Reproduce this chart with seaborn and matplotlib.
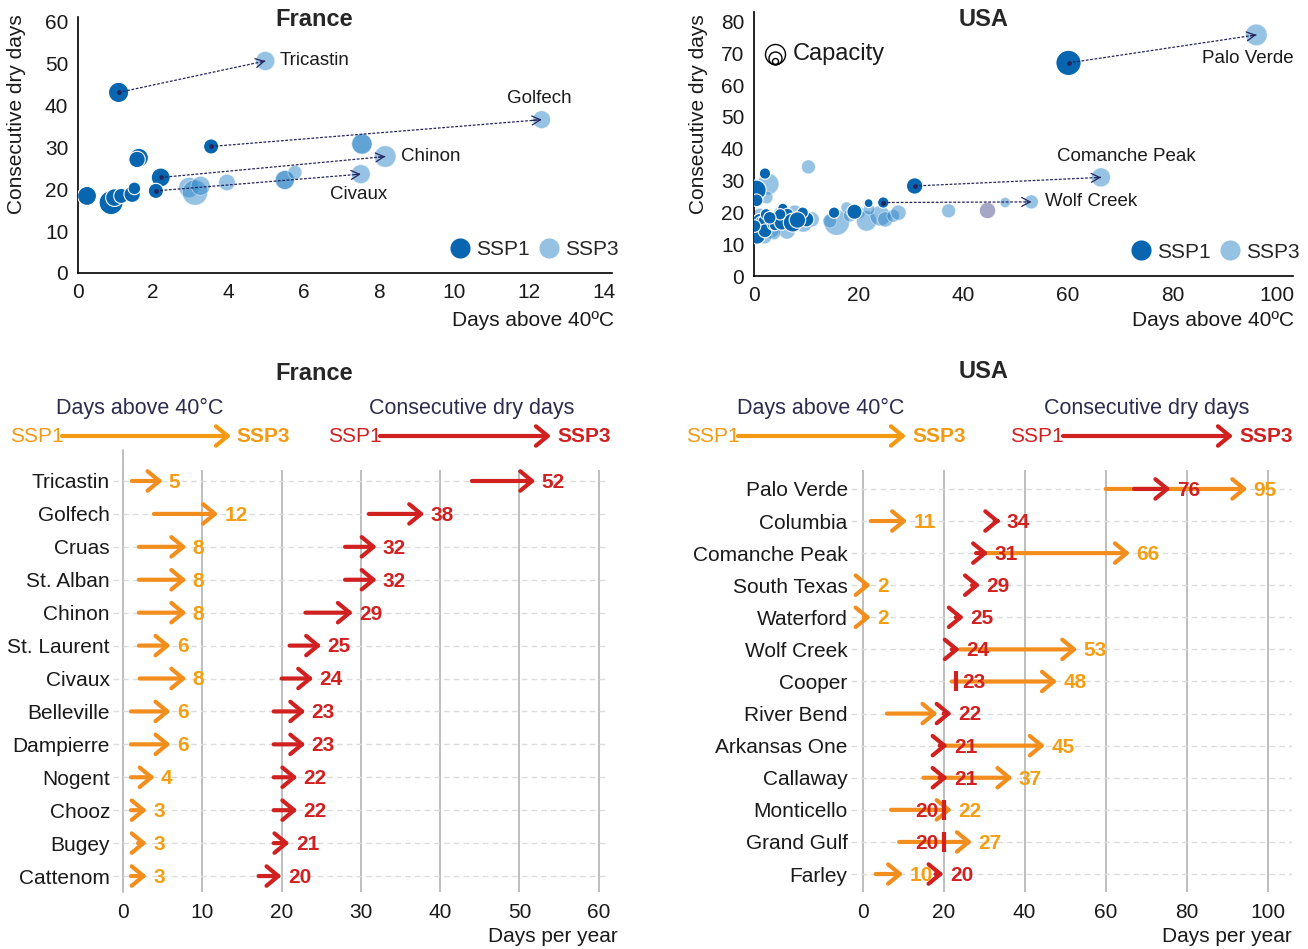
import matplotlib
matplotlib.use("Agg")
import matplotlib.pyplot as plt
from matplotlib.lines import Line2D
from matplotlib.patches import FancyArrowPatch
import pandas as pd
import seaborn as sns

# ---------------- data : top scatter, France ----------------
fr_s1_names = ["Tricastin", "Golfech", "Cruas", "St. Alban", "Chinon", "Civaux",
               "", "", "", "", "", ""]
fr_s1_heat = [1.08, 3.54, 1.62, 1.57, 2.20, 2.07, 0.24, 0.88, 0.97, 1.15, 1.44, 1.50]
fr_s1_cdd = [43.1, 30.2, 27.5, 27.1, 22.8, 19.6, 18.4, 16.8, 18.0, 18.4, 18.8, 20.2]
fr_s1_cap = [3.54, 1.99, 3.11, 2.34, 3.11, 1.99, 3.11, 5.00, 2.71, 1.99, 2.34, 1.38]

fr_s3_names = ["Tricastin", "Golfech", "Cruas", "St. Alban", "Chinon", "Civaux",
               "", "", "", "", "", "", ""]
fr_s3_heat = [4.98, 12.33, 7.55, 7.55, 8.17, 7.52, 2.95, 3.11, 3.26, 3.96, 5.50, 5.50, 5.77]
fr_s3_cdd = [50.6, 36.6, 30.8, 30.8, 27.8, 23.6, 20.4, 19.2, 20.8, 21.6, 22.2, 22.2, 24.0]
fr_s3_cap = [3.11, 2.71, 3.54, 3.54, 4.00, 3.11, 3.54, 5.54, 3.11, 2.34, 3.11, 3.11, 1.67]

fr_linked = ["Tricastin", "Golfech", "Chinon", "Civaux"]

# ---------------- data : top scatter, USA ----------------
us_s1_names = ["Palo Verde", "Comanche Peak", "Wolf Creek"] + [""] * 25
us_s1_heat = [60.1, 30.7, 24.7, 21.9, 19.2, 15.3, 2.1, 0.4, 0.5, 0.6, 1.15, 1.4, 2.1, 2.1,
              3.7, 4.0, 5.3, 5.5, 6.4, 7.4, 9.1, 10.0, 9.3, 0.1, 2.3, 5.0, 8.3, 3.0]
us_s1_cdd = [67.0, 28.3, 23.1, 22.9, 20.2, 19.9, 32.2, 27.0, 23.8, 12.6, 17.3, 16.8, 16.8, 14.2,
             16.3, 16.0, 16.8, 21.3, 19.3, 16.8, 18.9, 17.8, 19.9, 15.7, 19.4, 19.4, 17.6, 18.3]
us_s1_cap = [5.54, 2.34, 1.12, 0.68, 1.99, 1.12, 1.12, 3.54, 1.38, 2.34, 1.99, 1.38, 1.99, 1.67,
             1.38, 1.12, 1.99, 0.89, 1.38, 3.11, 1.67, 1.99, 1.12, 1.38, 1.12, 1.12, 2.34, 1.38]

us_s3_names = ["Palo Verde", "Comanche Peak", "Wolf Creek"] + [""] * 26
us_s3_heat = [96.0, 66.3, 53.0, 48.0, 37.2, 10.4, 2.7, 2.4, 15.8, 17.7, 14.5, 20.0, 21.5, 24.1,
              25.1, 26.6, 27.6, 22.0, 18.3, 0.0, 3.2, 6.3, 9.4, 11.0, 1.1, 5.1, 7.8, 3.8, 2.0]
us_s3_cdd = [75.8, 31.0, 23.3, 23.1, 20.5, 34.3, 28.9, 24.7, 16.8, 21.5, 17.3, 19.9, 17.3, 18.9,
             17.8, 18.9, 19.9, 21.0, 19.0, 15.2, 14.7, 14.2, 16.8, 17.8, 18.9, 19.4, 19.9, 13.6, 12.5]
us_s3_cap = [4.00, 3.11, 1.67, 0.89, 1.67, 1.67, 4.00, 1.38, 5.54, 1.12, 1.67, 1.38, 3.54, 3.54,
             1.99, 1.38, 1.99, 1.12, 1.38, 2.71, 2.71, 2.34, 3.11, 1.99, 1.99, 1.99, 1.99, 1.67, 1.99]

us_other_heat = [44.6]
us_other_cdd = [20.7]
us_other_cap = [2.34]

us_linked = ["Palo Verde", "Comanche Peak", "Wolf Creek"]

# ---------------- data : bottom arrow charts ----------------
fr_plants = ["Tricastin", "Golfech", "Cruas", "St. Alban", "Chinon", "St. Laurent", "Civaux",
             "Belleville", "Dampierre", "Nogent", "Chooz", "Bugey", "Cattenom"]
fr_heat_ssp1 = [1.1, 3.9, 2.0, 2.0, 2.0, 2.0, 2.1, 1.0, 1.0, 1.0, 1.0, 1.9, 1.0]
fr_heat_ssp3 = [5, 12, 8, 8, 8, 6, 8, 6, 6, 4, 3, 3, 3]
fr_heat_show = [True] * 13
fr_cdd_ssp1 = [44, 31, 28, 28, 23, 21, 20, 19, 19, 19, 19, 19, 17.1]
fr_cdd_ssp3 = [52, 38, 32, 32, 29, 25, 24, 23, 23, 22, 22, 21, 20]
fr_cdd_side = ["r"] * 13

us_plants = ["Palo Verde", "Columbia", "Comanche Peak", "South Texas", "Waterford", "Wolf Creek",
             "Cooper", "River Bend", "Arkansas One", "Callaway", "Monticello", "Grand Gulf", "Farley"]
us_heat_ssp1 = [60, 2, 30, 0.3, 0.3, 24, 22, 6, 19.5, 15, 7, 9, 3.2]
us_heat_ssp3 = [95, 11, 66, 2, 2, 53, 48, 18.5, 45, 37, 22, 27, 10]
us_heat_show = [True, True, True, True, True, True, True, False, True, True, True, True, True]
us_cdd_ssp1 = [67, 32.6, 28, 27, 23, 22, 23, 20, 19, 19, 20, 20, 18]
us_cdd_ssp3 = [76, 34, 31, 29, 25, 24, 23, 22, 21, 21, 20, 20, 20]
us_cdd_side = ["r", "r", "r", "r", "r", "r", "r", "r", "r", "r", "l", "l", "r"]

fr_xticks = [0, 10, 20, 30, 40, 50, 60]
us_xticks = [0, 20, 40, 60, 80, 100]

# ---------------- style ----------------
sns.set_theme(style="white")
plt.rcParams["font.family"] = ["Liberation Sans", "DejaVu Sans"]

DARK = "#0866B0"
LIGHT = "#2E86C8"
OTHER = "#A6A6C6"
NAVY = "#26265E"
ORANGE = "#F28E1E"
ORANGE_T = "#F59E12"
RED = "#D02020"
TEXT = "#1A1A1A"
HEAD = "#2C2C4E"
K = 60.0  # points^2 per capacity unit

W, H = 1308, 949
fig = plt.figure(figsize=(W / 100, H / 100), dpi=100)
fig.patch.set_facecolor("white")


def fbox(l, t, r, b):
    return [l / W, 1 - b / H, (r - l) / W, (b - t) / H]


def scatter_panel(ax, s1n, s1x, s1y, s1c, s3n, s3x, s3y, s3c, linked, xlim, ylim, xticks, yticks):
    d3 = pd.DataFrame({"x": s3x, "y": s3y, "cap": s3c})
    d1 = pd.DataFrame({"x": s1x, "y": s1y, "cap": s1c})
    sns.scatterplot(data=d3, x="x", y="y", size="cap", sizes=(0, K * 6), size_norm=(0, 6),
                    color=LIGHT, alpha=0.5, edgecolor="white", linewidth=0.6,
                    legend=False, ax=ax, zorder=2)
    sns.scatterplot(data=d1, x="x", y="y", size="cap", sizes=(0, K * 6), size_norm=(0, 6),
                    color=DARK, alpha=1.0, edgecolor="white", linewidth=0.8,
                    legend=False, ax=ax, zorder=3)
    for name in linked:
        i1 = s1n.index(name)
        i3 = s3n.index(name)
        x0, y0, x1, y1 = s1x[i1], s1y[i1], s3x[i3], s3y[i3]
        ax.plot([x0, x1], [y0, y1], ls=(0, (2.2, 1.3)), lw=0.9, color=NAVY, zorder=5)
        ax.plot([x0], [y0], marker="o", ms=2.4, color=NAVY, zorder=6)
        f = 0.03
        ax.annotate("", xy=(x1, y1), xytext=(x1 - f * (x1 - x0), y1 - f * (y1 - y0)),
                    arrowprops=dict(arrowstyle="->,head_length=0.6,head_width=0.32", lw=0.9,
                                    color=NAVY, shrinkA=0, shrinkB=0, mutation_scale=10),
                    zorder=6)
    ax.set_xlim(*xlim)
    ax.set_ylim(*ylim)
    ax.set_xticks(xticks)
    ax.set_yticks(yticks)
    ax.tick_params(axis="both", length=0, pad=7, labelsize=15, colors=TEXT)
    ax.set_xlabel("")
    ax.set_ylabel("")
    for s in ["top", "right"]:
        ax.spines[s].set_visible(False)
    for s in ["left", "bottom"]:
        ax.spines[s].set_color("black")
        ax.spines[s].set_linewidth(1.2)
    handles = [Line2D([], [], ls="", marker="o", ms=14.5, mfc=DARK, mec="none"),
               Line2D([], [], ls="", marker="o", ms=14.5, mfc="#95C2E3", mec="none")]
    ax.legend(handles, ["SSP1", "SSP3"], loc="center right", bbox_to_anchor=(1.012, 0.09),
              ncol=2, frameon=False, fontsize=15, handlelength=1.0, handletextpad=0.25,
              columnspacing=0.45, borderpad=0, borderaxespad=0)


# ---------------- top-left: France ----------------
ax_fs = fig.add_axes(fbox(78, 17, 612, 273))
scatter_panel(ax_fs, fr_s1_names, fr_s1_heat, fr_s1_cdd, fr_s1_cap,
              fr_s3_names, fr_s3_heat, fr_s3_cdd, fr_s3_cap, fr_linked,
              (0, 14.2), (0, 61.1), range(0, 15, 2), range(0, 61, 10))


def lab(ax, names, xs, ys, name, dx, dy, ha):
    i = names.index(name)
    ax.annotate(name, xy=(xs[i], ys[i]), xytext=(dx, dy), textcoords="offset points",
                ha=ha, va="center", fontsize=13.5, color=TEXT, zorder=8)


lab(ax_fs, fr_s3_names, fr_s3_heat, fr_s3_cdd, "Tricastin", 10, 0, "left")
lab(ax_fs, fr_s3_names, fr_s3_heat, fr_s3_cdd, "Golfech", -1.5, 15.5, "center")
lab(ax_fs, fr_s3_names, fr_s3_heat, fr_s3_cdd, "Chinon", 11, 0, "left")
lab(ax_fs, fr_s3_names, fr_s3_heat, fr_s3_cdd, "Civaux", -1.5, -14.5, "center")

# ---------------- top-right: USA ----------------
ax_us = fig.add_axes(fbox(754, 12, 1293, 276))
d_o = pd.DataFrame({"x": us_other_heat, "y": us_other_cdd, "cap": us_other_cap})
sns.scatterplot(data=d_o, x="x", y="y", size="cap", sizes=(0, K * 6), size_norm=(0, 6),
                color=OTHER, edgecolor="white", linewidth=0.6, legend=False, ax=ax_us, zorder=2)
scatter_panel(ax_us, us_s1_names, us_s1_heat, us_s1_cdd, us_s1_cap,
              us_s3_names, us_s3_heat, us_s3_cdd, us_s3_cap, us_linked,
              (0, 103), (0, 83), range(0, 101, 20), range(0, 81, 10))
lab(ax_us, us_s3_names, us_s3_heat, us_s3_cdd, "Palo Verde", 27, -17, "right")
lab(ax_us, us_s3_names, us_s3_heat, us_s3_cdd, "Comanche Peak", 18, 15, "center")
lab(ax_us, us_s3_names, us_s3_heat, us_s3_cdd, "Wolf Creek", 9.5, 0, "left")

# capacity key (nested open circles)
ax_h = 276 - 12
for r in [10, 6.5, 3]:
    ax_us.plot([(775 - 754) / 539], [(276 - (64 - r)) / ax_h], transform=ax_us.transAxes,
               marker="o", ms=2 * r / 1.389, mfc="none", mec="black", mew=1.0, ls="",
               clip_on=False, zorder=9)
fig.text(793 / W, 1 - 54 / H, "Capacity", fontsize=17, color=TEXT, ha="left", va="center")

# scatter titles & axis labels
fig.text(314 / W, 1 - 20 / H, "France", fontsize=17, fontweight="bold", ha="center", va="center")
fig.text(984 / W, 1 - 20 / H, "USA", fontsize=17, fontweight="bold", ha="center", va="center")
fig.text(614 / W, 1 - 321 / H, "Days above 40ºC", fontsize=15, ha="right", va="center", color=TEXT)
fig.text(1294 / W, 1 - 321 / H, "Days above 40ºC", fontsize=15, ha="right", va="center", color=TEXT)
fig.text(17 / W, 1 - 14 / H, "Consecutive dry days", fontsize=15, rotation=90, ha="center",
         va="top", color=TEXT)
fig.text(698 / W, 1 - 14 / H, "Consecutive dry days", fontsize=15, rotation=90, ha="center",
         va="top", color=TEXT)


# ---------------- bottom arrow charts ----------------
def draw_arrow(ax, a, b, y, color):
    if abs(b - a) < 0.05:
        ax.plot([b], [y], marker="|", ms=14, mew=3, color=color, zorder=4)
    else:
        ax.annotate("", xy=(b, y), xytext=(a, y),
                    arrowprops=dict(arrowstyle="->,head_length=0.85,head_width=0.7", lw=3,
                                    color=color, shrinkA=0, shrinkB=0, mutation_scale=10),
                    zorder=4)


def arrow_panel(ax, names, h1, h3, hshow, c1, c3, cside, xlim, ylim, xticks):
    n = len(names)
    ax.set_xlim(*xlim)
    ax.set_ylim(*ylim)
    ax.set_xticks(xticks)
    ax.set_yticks(range(n))
    ax.set_yticklabels(names)
    ax.xaxis.grid(True, color="#BEBEBE", lw=1.4)
    ax.yaxis.grid(True, color="#DCDCDC", lw=1.0, ls=(0, (4, 3)))
    ax.set_axisbelow(True)
    for s in ax.spines.values():
        s.set_visible(False)
    ax.tick_params(axis="x", length=0, pad=8, labelsize=15, colors=TEXT)
    ax.tick_params(axis="y", length=0, pad=2, labelsize=15, colors=TEXT)
    for i in range(n):
        draw_arrow(ax, h1[i], h3[i], i, ORANGE)
    for i in range(n):
        draw_arrow(ax, c1[i], c3[i], i, RED)
    for i in range(n):
        if hshow[i]:
            ax.annotate(f"{h3[i]:g}", xy=(h3[i], i), xytext=(4.5, -1), textcoords="offset points",
                        ha="left", va="center", fontsize=15, fontweight="bold", color=ORANGE_T,
                        zorder=6)
        if cside[i] == "r":
            ax.annotate(f"{c3[i]:g}", xy=(c3[i], i), xytext=(4.5, -1), textcoords="offset points",
                        ha="left", va="center", fontsize=15, fontweight="bold", color=RED, zorder=7)
        else:
            ax.annotate(f"{c3[i]:g}", xy=(c3[i], i), xytext=(-4, -1), textcoords="offset points",
                        ha="right", va="center", fontsize=15, fontweight="bold", color=RED, zorder=7)


ax_fb = fig.add_axes(fbox(112.7, 470, 606.7, 892))
arrow_panel(ax_fb, fr_plants, fr_heat_ssp1, fr_heat_ssp3, fr_heat_show,
            fr_cdd_ssp1, fr_cdd_ssp3, fr_cdd_side, (-1.3, 61), (12.485, -0.334), fr_xticks)
ax_fb.plot([0, 0], [-0.95, 12.485], color="#BEBEBE", lw=1.4, clip_on=False, zorder=0)

ax_ub = fig.add_axes(fbox(850.5, 470, 1292, 892))
arrow_panel(ax_ub, us_plants, us_heat_ssp1, us_heat_ssp3, us_heat_show,
            us_cdd_ssp1, us_cdd_ssp3, us_cdd_side, (-3, 106), (12.56, -0.59), us_xticks)

fig.text(618 / W, 1 - 937 / H, "Days per year", fontsize=15, ha="right", va="center", color=TEXT)
fig.text(1292 / W, 1 - 937 / H, "Days per year", fontsize=15, ha="right", va="center", color=TEXT)


# headers
def header(xc_title, title, days_c, x_s1o, x_ao0, x_ao1, x_s3o, cdd_c, x_s1r, x_ar0, x_ar1, x_s3r,
           ytitle):
    if title:
        fig.text(xc_title / W, 1 - ytitle / H, title, fontsize=17, fontweight="bold",
                 ha="center", va="center")
    fig.text(days_c / W, 1 - 408 / H, "Days above 40°C", fontsize=15.5, color=HEAD,
             ha="center", va="center")
    fig.text(cdd_c / W, 1 - 408 / H, "Consecutive dry days", fontsize=15.5, color=HEAD,
             ha="center", va="center")
    for (xs1, xa0, xa1, xs3, col) in [(x_s1o, x_ao0, x_ao1, x_s3o, "#F39A12"),
                                      (x_s1r, x_ar0, x_ar1, x_s3r, RED)]:
        fig.text(xs1 / W, 1 - 436 / H, "SSP1", fontsize=15, color=col, ha="left", va="center")
        fig.text(xs3 / W, 1 - 436 / H, "SSP3", fontsize=15, fontweight="bold", color=col,
                 ha="left", va="center")
        fig.add_artist(FancyArrowPatch((xa0 / W, 1 - 436 / H), (xa1 / W, 1 - 436 / H),
                                       transform=fig.transFigure,
                                       arrowstyle="->,head_length=0.85,head_width=0.7",
                                       mutation_scale=10, lw=3, color=col,
                                       shrinkA=0, shrinkB=0))


header(314, "France", 140, 10, 62, 231, 236, 472, 328, 380, 551, 557, 373)
header(984, "USA", 821, 686, 738, 906, 912, 1147, 1010, 1063, 1233, 1239, 372)

fig.savefig("out.png", dpi=100, facecolor="white")
